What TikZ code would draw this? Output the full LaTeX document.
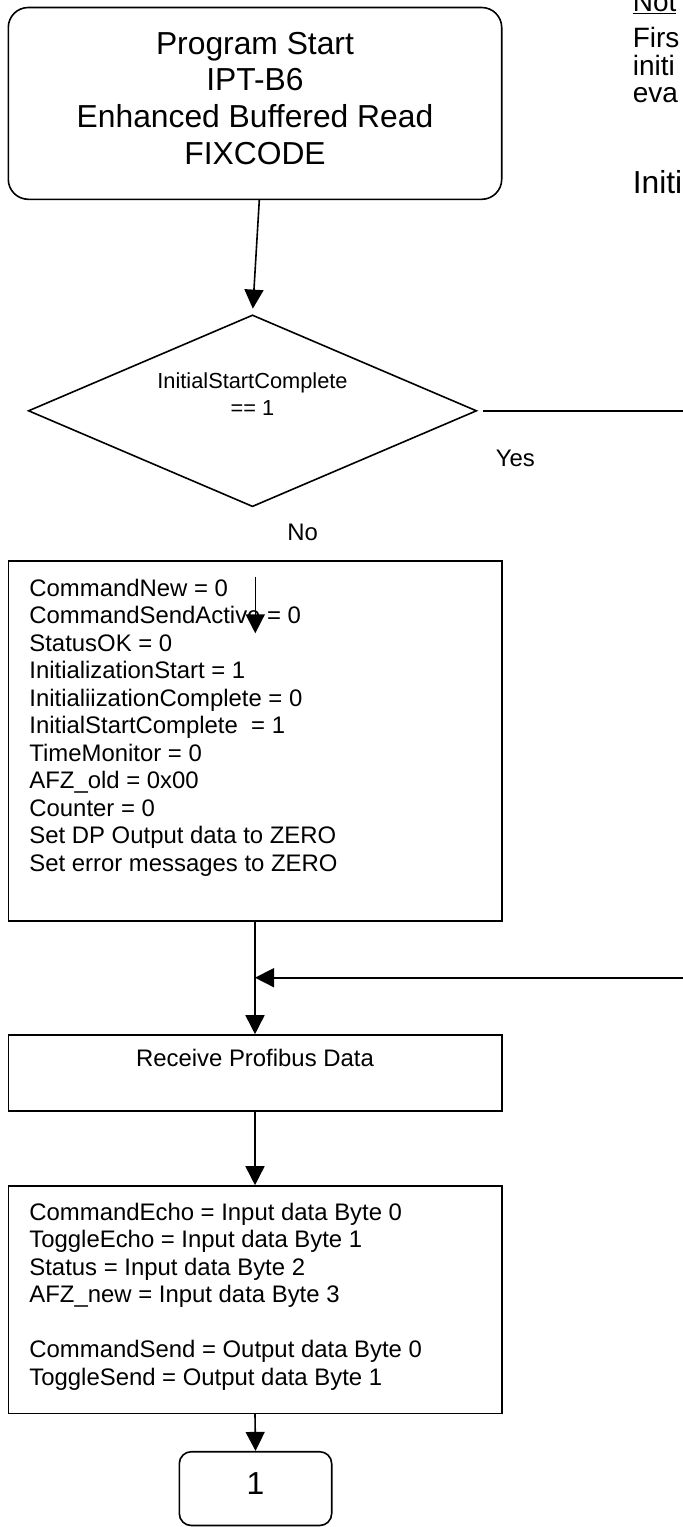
\documentclass[tikz,border=0pt]{standalone}
\usepackage{fontspec}
\setmainfont{Liberation Sans}
\usetikzlibrary{shapes.geometric,arrows.meta,positioning,calc}

\begin{document}
\begin{tikzpicture}[x=1pt,y=-1pt,line width=1.6pt,>={Triangle[length=19pt,width=19pt]},
startbox/.style = {draw, rounded corners=20pt, minimum width=493.4pt, minimum height=191.8pt, inner sep=0pt},
box/.style = {draw, minimum width=493.4pt, inner sep=0pt},
decision/.style = {draw, diamond, minimum width=448.4pt, minimum height=191.8pt, inner sep=0pt},
connector/.style = {draw, rounded corners=12pt, minimum width=152.4pt, minimum height=73.8pt, inner sep=0pt},
bigtxt/.style = {inner sep=0pt, font=\fontsize{31.8}{36.6}\selectfont},
txt/.style = {inner sep=0pt, font=\fontsize{23.9}{27.5}\selectfont},
dectxt/.style = {inner sep=0pt, font=\fontsize{21.8}{26.5}\selectfont},
notetxt/.style = {inner sep=0pt, font=\fontsize{28}{27.5}\selectfont},]
\useasboundingbox (0,0) rectangle (683,1527);
% shapes
\node (start) at (255,103.4)[startbox] {};
\node (dec) at (252.5,410.8)[decision] {};
\node (init) at (255,740.85)[box,minimum height=359.7pt] {};
\node (recv) at (255,1072.85)[box,minimum height=75.7pt] {};
\node (echo) at (255,1299.65)[box,minimum height=227.3pt] {};
\node (term) at (255.5,1488.6)[connector] {};
% texts
\node (starttxt) at (255,31.3)[bigtxt,align=center,anchor=north] {Program Start\\IPT-B6\\Enhanced Buffered Read\\FIXCODE};
\node (dectxt) at (252.5,372.1)[dectxt,align=center,anchor=north] {InitialStartComplete\\== 1};
\node (yes) at (495,466.7)[txt,anchor=base west] {Yes};
\node (no) at (286.5,540)[txt,anchor=base west] {No};
\node (inittxt) at (28.6,578.3)[txt,align=left,anchor=north west] {CommandNew = 0\\CommandSendActive = 0\\StatusOK = 0\\InitializationStart = 1\\InitialiizationComplete = 0\\InitialStartComplete\ \ = 1\\TimeMonitor = 0\\AFZ\_old = 0x00\\Counter = 0\\Set DP Output data to ZERO\\Set error messages to ZERO};
\node (recvtxt) at (255,1066.7)[txt,anchor=base] {Receive Profibus Data};
\node (echotxt) at (28.6,1201.9)[txt,align=left,anchor=north west] {CommandEcho = Input data Byte 0\\ToggleEcho = Input data Byte 1\\Status = Input data Byte 2\\AFZ\_new = Input data Byte 3\\[27.5pt]CommandSend = Output data Byte 0\\ToggleSend = Output data Byte 1};
\node (termtxt) at (255.5,1494)[bigtxt,anchor=base] {1};
% note, cut off at the right edge
\node (note) at (632,11.7)[notetxt,anchor=base west] {\underline{Not}};
\node (notetxt) at (632,26.7)[notetxt,align=left,anchor=north west] {Firs\\initi\\eva};
\node (noteinit) at (632,193.3)[bigtxt,anchor=base west] {Initi};
% connectors
\coordinate (yesend) at (690,410.8);
\coordinate (nostart) at (255.3,576.7);
\coordinate (noend) at (255.3,633.3);
\coordinate (loopin) at (690,977.7);
\draw[->,shorten >=5.5pt] ([xshift=4.3pt]start.south)--(dec.north);
\draw[shorten <=5pt] (dec.east)--(yesend);
\draw[->] (nostart)--(noend);
\draw[->] (init.south)--(recv.north);
\draw[->] (loopin)--(init.south |- loopin);
\draw[->] (recv.south)--(echo.north);
\draw[->] (echo.south)--(term.north);
\end{tikzpicture}
\end{document}
